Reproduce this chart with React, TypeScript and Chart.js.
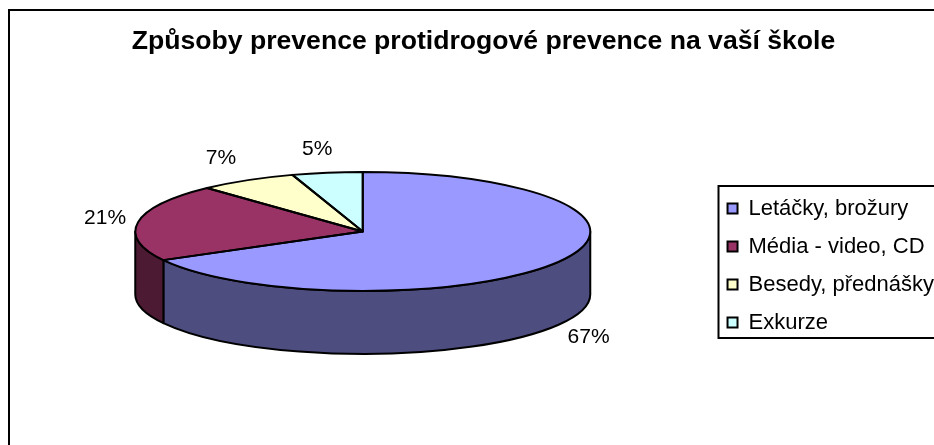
import React, { useEffect, useRef } from "react";
import { Chart, registerables } from "chart.js";

Chart.register(...registerables);

const titleText = "Způsoby prevence protidrogové prevence na vaší škole";
const categories = ["Letáčky, brožury", "Média - video, CD", "Besedy, přednášky", "Exkurze"];
const shares = [67, 21, 7, 5];
const faceColors = ["#9999FF", "#993366", "#FFFFCC", "#CCFFFF"];
const wallColors = ["#4D4D80", "#4D1A33", "#808066", "#668080"];

const FONT = "'Liberation Sans', Arial, sans-serif";
const RADIUS = 227.5;
const TILT = 59.5 / 227.5;
const DEPTH = 63;
const OUTLINE = 2;
// Nudge of each percentage label away from the rim point at the slice's middle angle.
const labelNudges = [
  [30, 75],
  [-33, -4],
  [-26, -22],
  [-10, -23],
];

type Arc = { x: number; y: number; startAngle: number; endAngle: number; outerRadius: number };

// Squashes the flat pie into an ellipse and adds the wall, outlines and percentage labels.
const tiltedPie = {
  id: "tiltedPie",
  afterLayout(chart: any) {
    // The legend sits lower and further right than the default layout would put it.
    const legend = chart.legend;
    const dx = 10;
    const dy = 68;
    legend.left += dx;
    legend.right += dx;
    legend.top += dy;
    legend.bottom += dy;
    chart.titleBlock.left += 4.5;
    chart.titleBlock.right += 4.5;
  },
  beforeDatasetsDraw(chart: any) {
    const ctx: CanvasRenderingContext2D = chart.ctx;
    const arcs: Arc[] = chart.getDatasetMeta(0).data;
    const { x: cx, y: cy, outerRadius: rx } = arcs[0];
    const ry = rx * TILT;
    ctx.save();
    ctx.lineWidth = OUTLINE;
    ctx.strokeStyle = "#000";
    ctx.lineJoin = "round";
    arcs.forEach((arc, i) => {
      const lo = Math.max(arc.startAngle, 0);
      const hi = Math.min(arc.endAngle, Math.PI);
      if (hi <= lo) return;
      ctx.beginPath();
      ctx.ellipse(cx, cy, rx, ry, 0, lo, hi);
      ctx.ellipse(cx, cy + DEPTH, rx, ry, 0, hi, lo, true);
      ctx.closePath();
      ctx.fillStyle = wallColors[i];
      ctx.fill();
      ctx.stroke();
    });
    ctx.restore();
    ctx.save();
    ctx.translate(0, cy);
    ctx.scale(1, TILT);
    ctx.translate(0, -cy);
  },
  afterDatasetsDraw(chart: any) {
    const ctx: CanvasRenderingContext2D = chart.ctx;
    ctx.restore();
    const arcs: Arc[] = chart.getDatasetMeta(0).data;
    const { x: cx, y: cy, outerRadius: rx } = arcs[0];
    const ry = rx * TILT;
    ctx.save();
    ctx.lineWidth = OUTLINE;
    ctx.strokeStyle = "#000";
    ctx.lineJoin = "round";
    arcs.forEach((arc) => {
      ctx.beginPath();
      ctx.moveTo(cx, cy);
      ctx.ellipse(cx, cy, rx, ry, 0, arc.startAngle, arc.endAngle);
      ctx.closePath();
      ctx.stroke();
    });
    ctx.fillStyle = "#000";
    ctx.font = `21px ${FONT}`;
    ctx.textAlign = "center";
    ctx.textBaseline = "middle";
    arcs.forEach((arc, i) => {
      const mid = (arc.startAngle + arc.endAngle) / 2;
      const [nx, ny] = labelNudges[i];
      ctx.fillText(`${shares[i]}%`, cx + rx * Math.cos(mid) + nx, cy + ry * Math.sin(mid) + ny);
    });
    ctx.restore();
  },
  afterDraw(chart: any) {
    const ctx: CanvasRenderingContext2D = chart.ctx;
    ctx.save();
    ctx.strokeStyle = "#000";
    ctx.lineWidth = 2;
    // Outer frame, running off the right and bottom of the canvas.
    ctx.strokeRect(9, 10, chart.width + 20, chart.height + 20);
    // Legend frame, which also runs past the right edge.
    ctx.strokeRect(718.5, 186, chart.width, 152);
    ctx.restore();
  },
};

export default function App() {
  const canvasRef = useRef<HTMLCanvasElement>(null);

  useEffect(() => {
    const chart = new Chart(canvasRef.current as HTMLCanvasElement, {
      type: "pie",
      data: {
        labels: categories,
        datasets: [
          {
            data: shares,
            backgroundColor: faceColors,
            borderWidth: 0,
            clip: false,
          } as any,
        ],
      },
      options: {
        responsive: false,
        animation: false,
        radius: RADIUS,
        layout: { padding: { left: 24, right: 0, top: 0, bottom: 50 } },
        plugins: {
          tooltip: { enabled: false },
          title: {
            display: true,
            text: titleText,
            color: "#000",
            font: { family: FONT, size: 26.6, weight: "bold" },
            padding: { top: 26, bottom: 10 },
          },
          legend: {
            position: "right",
            labels: {
              color: "#000",
              font: { family: FONT, size: 22 },
              boxWidth: 10,
              boxHeight: 10,
              padding: 16,
              generateLabels(c: any) {
                const base = (Chart as any).overrides.pie.plugins.legend.labels.generateLabels(c);
                return base.map((item: any) => ({ ...item, strokeStyle: "#000", lineWidth: 2 }));
              },
            },
          },
        },
      } as any,
      plugins: [tiltedPie],
    });
    return () => chart.destroy();
  }, []);

  return (
    <div style={{ position: "fixed", left: 0, top: 0, width: 934, height: 445, background: "#fff" }}>
      <canvas ref={canvasRef} width={934} height={445} style={{ display: "block" }} />
    </div>
  );
}
